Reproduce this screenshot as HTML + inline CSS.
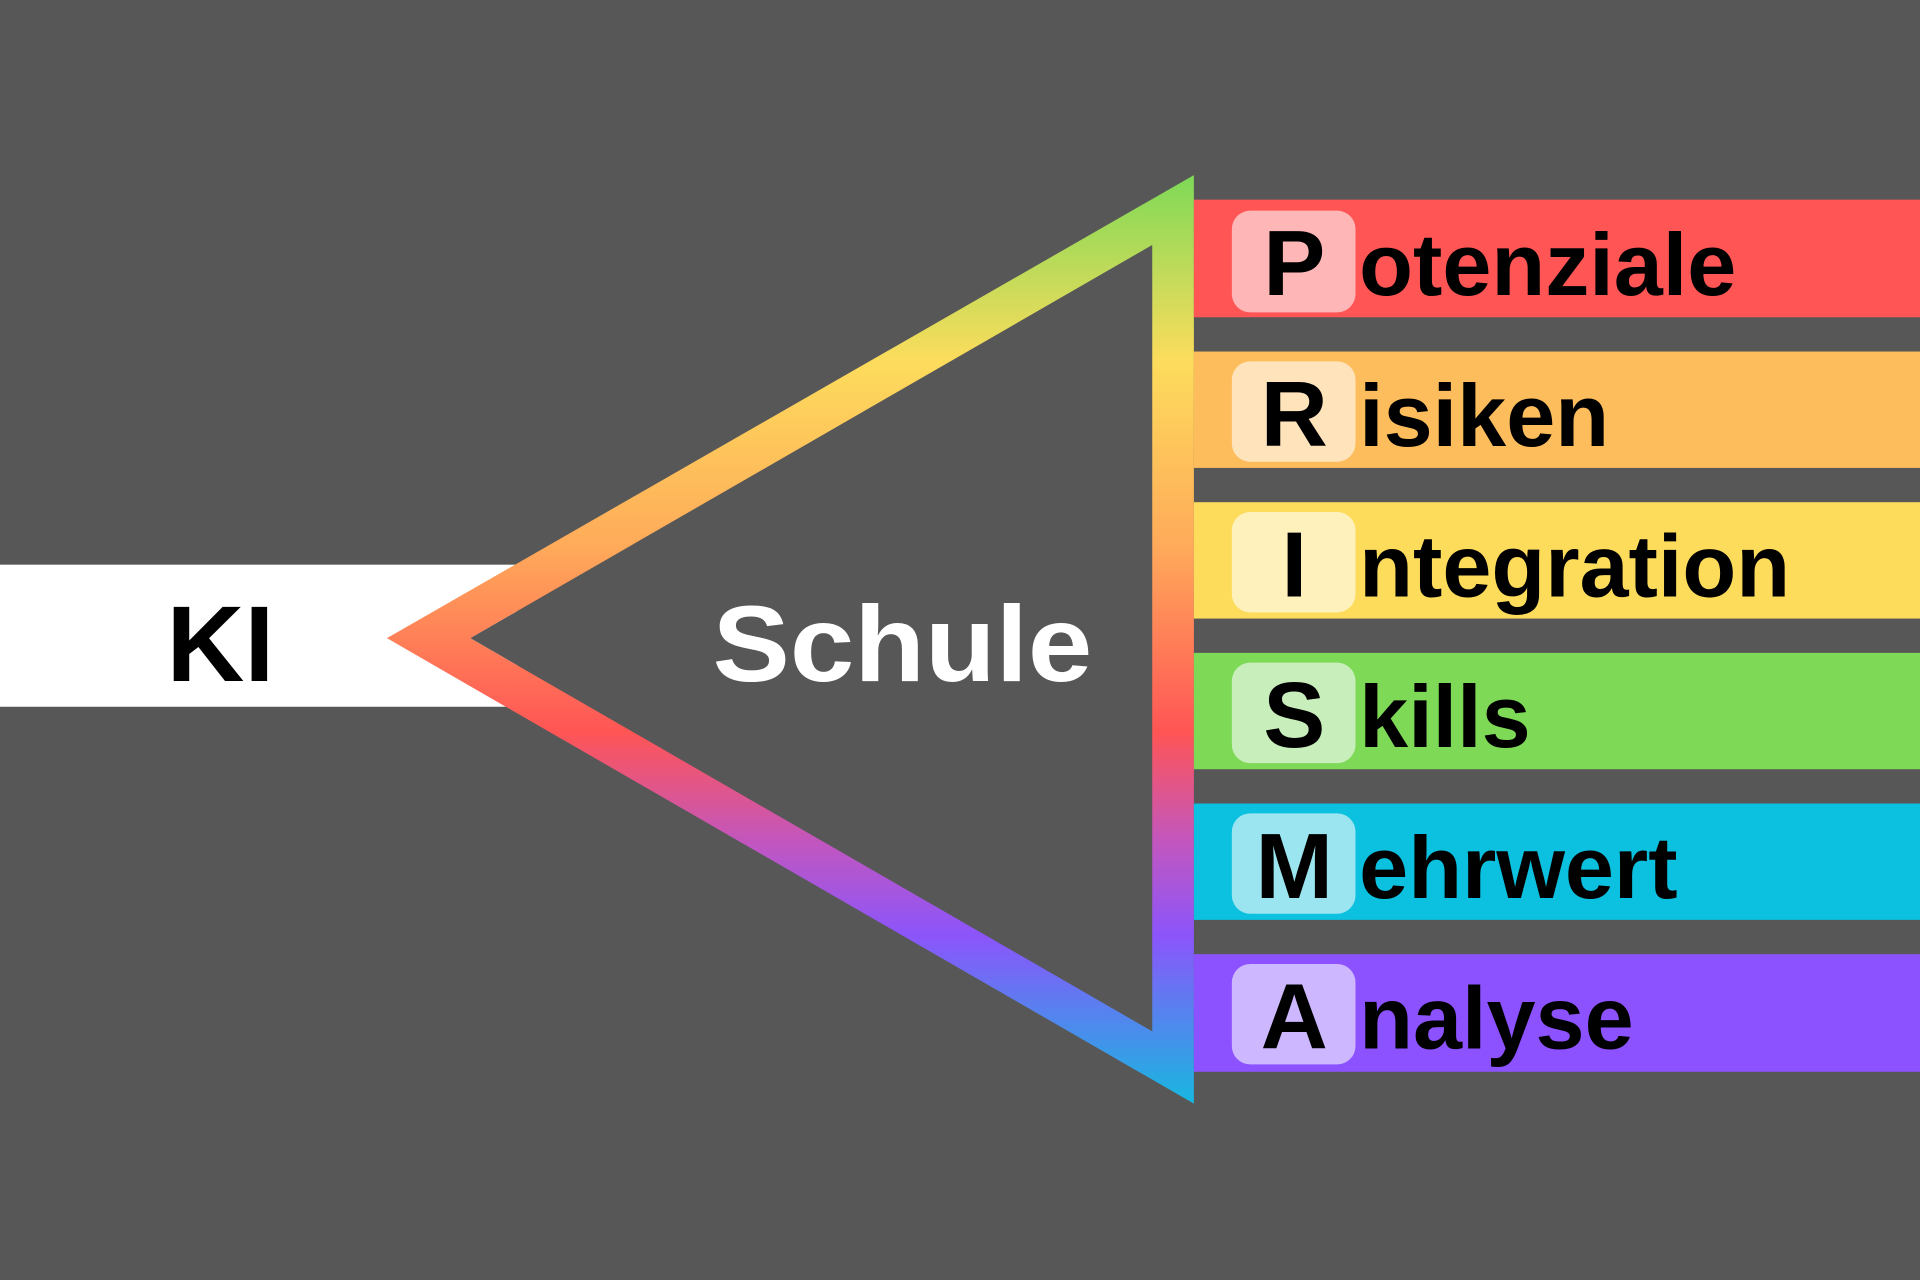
<!DOCTYPE html>
<html><head><meta charset="utf-8"><style>
html,body{margin:0;padding:0;background:#575757;}
svg{display:block}
text{font-family:"Liberation Sans",Arial,sans-serif;font-weight:bold}
</style></head><body>
<svg width="1920" height="1280" viewBox="0 0 1568 1045" preserveAspectRatio="none" xmlns="http://www.w3.org/2000/svg">
<defs>
<linearGradient id="g" gradientUnits="userSpaceOnUse" x1="0" y1="143" x2="0" y2="901">
<stop offset="0" stop-color="#7ed957"/>
<stop offset="0.2" stop-color="#fddc5c"/>
<stop offset="0.4" stop-color="#ffaa5a"/>
<stop offset="0.6" stop-color="#ff5555"/>
<stop offset="0.72" stop-color="#c156c0"/>
<stop offset="0.82" stop-color="#8b55fb"/>
<stop offset="1" stop-color="#17b8e0"/>
</linearGradient>
</defs>
<rect width="1568" height="1045" fill="#575757"/>
<rect x="0" y="461" width="422" height="116" fill="#ffffff"/>
<path fill="#575757" d="M384,521 L941,842 L941,200 Z"/>
<path fill-rule="evenodd" fill="url(#g)" d="M316,521 L975,143 L975,901 Z M384,521 L941,842 L941,200 Z"/>
<text x="180" y="556" font-size="88" text-anchor="middle" fill="#000">KI</text>
<text x="582" y="556" font-size="88" textLength="310" lengthAdjust="spacingAndGlyphs" fill="#fff">Schule</text>

<rect x="975" y="163" width="593" height="96" fill="#ff5555"/>
<rect x="1006" y="172" width="101" height="83" rx="15" fill="#ffb6b6"/>
<text x="1057" y="241" font-size="76" text-anchor="middle">P</text>
<text x="1110" y="241" font-size="72">otenziale</text>

<rect x="975" y="287" width="593" height="95" fill="#fdbd5c"/>
<rect x="1006" y="295" width="101" height="82" rx="15" fill="#fee3bb"/>
<text x="1057" y="364" font-size="76" text-anchor="middle">R</text>
<text x="1110" y="364" font-size="72">isiken</text>

<rect x="975" y="410" width="593" height="95" fill="#fddc5c"/>
<rect x="1006" y="418" width="101" height="82" rx="15" fill="#fef1bc"/>
<text x="1057" y="487" font-size="76" text-anchor="middle">I</text>
<text x="1110" y="487" font-size="72">ntegration</text>

<rect x="975" y="533" width="593" height="95" fill="#7ed957"/>
<rect x="1006" y="541" width="101" height="82" rx="15" fill="#c8eebb"/>
<text x="1057" y="610" font-size="76" text-anchor="middle">S</text>
<text x="1110" y="610" font-size="72">kills</text>

<rect x="975" y="656" width="593" height="95" fill="#0cc0df"/>
<rect x="1006" y="664" width="101" height="82" rx="15" fill="#9be5f0"/>
<text x="1057" y="733" font-size="76" text-anchor="middle">M</text>
<text x="1110" y="733" font-size="72">ehrwert</text>

<rect x="975" y="779" width="593" height="96" fill="#8c52ff"/>
<rect x="1006" y="787" width="101" height="82" rx="15" fill="#cdb8ff"/>
<text x="1057" y="856" font-size="76" text-anchor="middle">A</text>
<text x="1110" y="856" font-size="72">nalyse</text>
</svg>
</body></html>
